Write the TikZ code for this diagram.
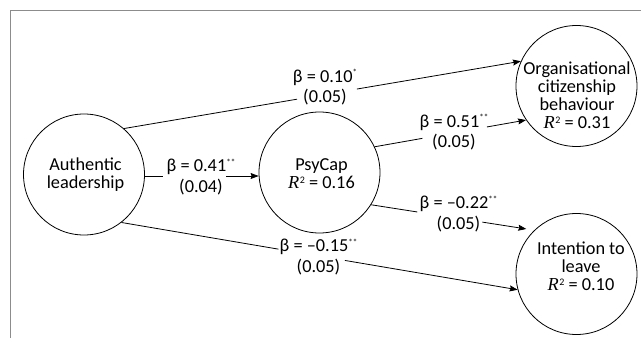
\documentclass[tikz,border=0pt]{standalone}
\usepackage{fontspec}
\setmainfont{Carlito}
\newfontfamily\rmserif{Liberation Serif}
\usetikzlibrary{arrows.meta,calc}
\newcommand{\Rsq}{{\rmserif\itshape R}\kern0.5pt\raisebox{5.5pt}{\fontsize{10pt}{10pt}\selectfont 2}}
\newcommand{\sig}[1]{\raisebox{6.5pt}{\fontsize{9pt}{9pt}\selectfont #1}}
\begin{document}
\begin{tikzpicture}[x=1pt,y=-1pt,
  var/.style={draw,circle,minimum size=121pt,inner sep=0pt,line width=0.8pt},
  vtext/.style={align=center,font=\fontsize{18.3pt}{18pt}\selectfont,inner sep=0pt},
  coef/.style={align=center,font=\fontsize{18.3pt}{20.5pt}\selectfont,inner sep=0pt},
  conn/.style={line width=0.8pt},
  arr/.style={conn,-{Stealth[length=8pt,width=6pt,inset=1pt]}},
  framel/.style={draw=gray!90,line width=1.4pt}]
\useasboundingbox (0,0) rectangle (641,338);
\coordinate (f1) at (10.5,338);
\coordinate (f2) at (10.5,10.5);
\coordinate (f3) at (641,10.5);
\draw[framel] (f1) -- (f2) -- (f3);

\node[var] (AL) at (84,174.5) {};
\node[var] (PC) at (319.5,172.5) {};
\node[var] (OCB) at (576.5,86) {};
\node[var] (IL) at (576.5,274) {};

\node[vtext] (ALt) at (85.5,175) {Authentic\\leadership};
\node[vtext] (PCt) at (321.5,174) {PsyCap\\\Rsq{} = 0.16};
\node[vtext] (OCBt) at (577,95.5) {Organisational\\citizenship\\behaviour\\\Rsq{} = 0.31};
\node[vtext] (ILt) at (581,266.5) {Intention to\\leave\\\Rsq{} = 0.10};

\node[coef] (c1) at (325,87.5) {β = 0.10\sig{*}\\(0.05)};
\node[coef] (c2) at (201,177) {β = 0.41\sig{**}\\(0.04)};
\node[coef] (c3) at (454,132.5) {β = 0.51\sig{**}\\(0.05)};
\node[coef] (c4) at (458.5,214) {β = –0.22\sig{**}\\(0.05)};
\node[coef] (c5) at (318.5,257) {β = –0.15\sig{**}\\(0.05)};

% AL -> OCB
\coordinate (a1) at ($(AL.49)!0.436!(OCB.156)$);
\coordinate (b1) at ($(AL.49)!0.587!(OCB.156)$);
\draw[conn] (AL.49) -- (a1);
\draw[arr] (b1) -- (OCB.156);
% AL -> PC
\coordinate (a2) at (163,176);
\coordinate (b2) at (226,176);
\draw[conn] (a2 -| AL.east) -- (a2);
\draw[arr] (b2) -- (b2 -| PC.west);
% PC -> OCB
\coordinate (a3) at ($(PC.25)!0.315!(OCB.214)$);
\coordinate (b3) at ($(PC.25)!0.742!(OCB.214)$);
\draw[conn] (PC.25) -- (a3);
\draw[arr] (b3) -- (OCB.214);
% PC -> IL
\coordinate (a4) at ($(PC.328)!0.283!(IL.134)$);
\coordinate (b4) at ($(PC.328)!0.682!(IL.134)$);
\draw[conn] (PC.328) -- (a4);
\draw[arr,shorten >=8pt] (b4) -- (IL.134);
% AL -> IL
\coordinate (a5) at ($(AL.308)!0.396!(IL.195)$);
\coordinate (b5) at ($(AL.308)!0.564!(IL.195)$);
\draw[conn] (AL.308) -- (a5);
\draw[arr] (b5) -- (IL.195);
\end{tikzpicture}
\end{document}
